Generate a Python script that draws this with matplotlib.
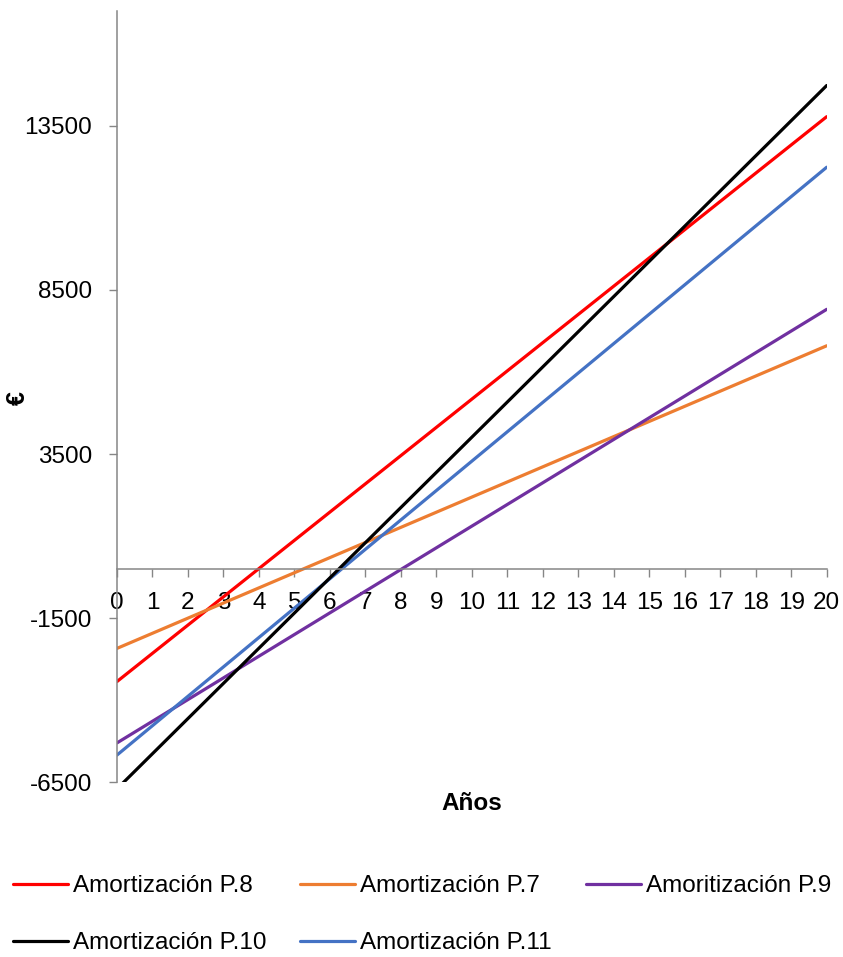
import matplotlib
matplotlib.use("Agg")
import matplotlib.pyplot as plt

plt.rcParams['font.family'] = ['Liberation Sans', 'DejaVu Sans']

# Endpoints (year 0 and year 20) of each amortization line, in euros
years = [0, 20]
amort_p8 = [-3430, 13780]
amort_p7 = [-2420, 6800]
amort_p9 = [-5300, 7910]
amort_p10 = [-6700, 14730]
amort_p11 = [-5670, 12240]

labels = ["Amortización P.8", "Amortización P.7", "Amoritización P.9",
          "Amortización P.10", "Amortización P.11"]
colors = ["#FF0000", "#ED7D31", "#7030A0", "#000000", "#4472C4"]

year_ticks = list(range(0, 21))
euro_ticks = [-6500, -1500, 3500, 8500, 13500]

W, H = 843, 957
fig = plt.figure(figsize=(W / 100, H / 100), dpi=100)
ax = fig.add_axes([117 / W, 1 - 782.3 / H, 709.7 / W, 771.3 / H])

series = [amort_p8, amort_p7, amort_p9, amort_p11, amort_p10]
order = [0, 1, 2, 4, 3]
handles = {}
for idx, vals in zip(order, series):
    ln, = ax.plot(years, vals, color=colors[idx], lw=2.3,
                  solid_capstyle='round', label=labels[idx])
    handles[idx] = ln

ax.set_xlim(0, 20)
ax.set_ylim(-6500, 17000)

axis_gray = "#868686"
for s in ['top', 'right']:
    ax.spines[s].set_visible(False)
ax.spines['left'].set_color(axis_gray)
ax.spines['left'].set_linewidth(1.1)
ax.spines['bottom'].set_position(('data', 0))
ax.spines['bottom'].set_color(axis_gray)
ax.spines['bottom'].set_linewidth(1.1)

ax.set_xticks(year_ticks)
ax.set_xticklabels([str(y) for y in year_ticks])
ax.set_yticks(euro_ticks)
ax.set_yticklabels([str(v) for v in euro_ticks])
ax.tick_params(axis='both', direction='out', length=5.8, width=1,
               color=axis_gray, labelsize=17.5, labelcolor='black')
ax.tick_params(axis='x', pad=10.5)
ax.tick_params(axis='y', pad=12)

fig.text(472 / W, 1 - 804 / H, "Años", ha='center', va='center',
         fontsize=17.5, fontweight='bold')
fig.text(18 / W, 1 - 398 / H, "€", ha='center', va='center',
         fontsize=18, fontweight='bold', rotation=90)

# legend laid out row by row: P.8, P.7, P.9 / P.10, P.11
leg_order = [0, 3, 1, 4, 2]
fig.legend([handles[i] for i in leg_order], [labels[i] for i in leg_order],
           ncol=3, loc='upper left', bbox_to_anchor=(13 / W, 1 - 875 / H),
           frameon=False, fontsize=17.5, handlelength=2.26, handletextpad=0.2,
           columnspacing=1.4, labelspacing=1.45, borderpad=0, borderaxespad=0)

fig.savefig("out.png", dpi=100)
